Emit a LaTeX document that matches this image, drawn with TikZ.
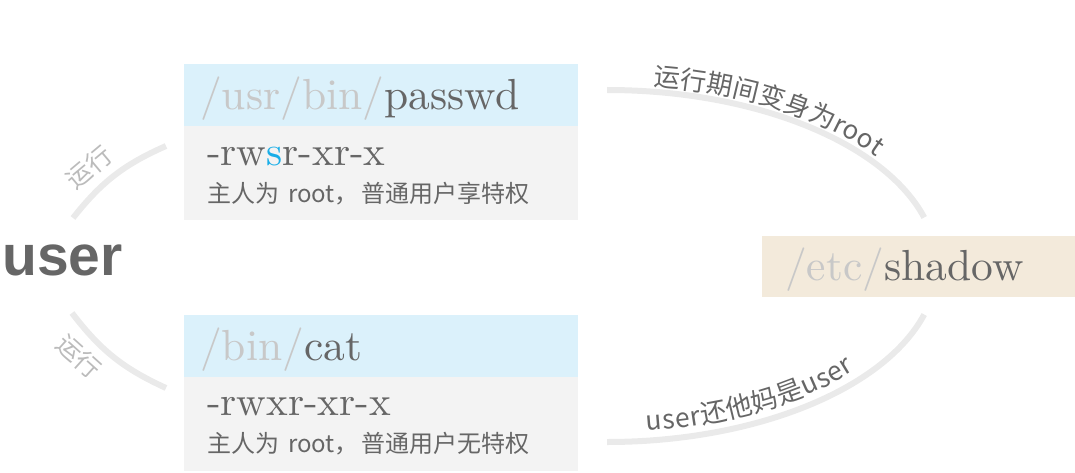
\documentclass[tikz,border=0pt]{standalone}
\usepackage{fontspec}
\usetikzlibrary{decorations.text}
\newfontfamily\cjk{Noto Sans CJK SC}
\newfontfamily\heros{Liberation Sans}
\newfontfamily\lmten{lmroman10-regular.otf}
\definecolor{txtdark}{HTML}{666666}
\definecolor{txtlight}{HTML}{C8C8C8}
\definecolor{hdrblue}{HTML}{DBF1FB}
\definecolor{bodygray}{HTML}{F3F3F3}
\definecolor{shadowbg}{HTML}{F3EADB}
\definecolor{arcgray}{HTML}{EAEAEA}
\definecolor{sblue}{HTML}{19AEE8}
\definecolor{lbllight}{HTML}{BBBBBB}
\tikzset{
  hdrbox/.style={fill=hdrblue, draw=none, minimum width=394pt, minimum height=62pt, anchor=north west, inner sep=0pt},
  bodybox/.style={fill=bodygray, draw=none, minimum width=394pt, minimum height=94pt, anchor=north west, inner sep=0pt},
  shbox/.style={fill=shadowbg, draw=none, minimum width=313pt, minimum height=61pt, anchor=north west, inner sep=0pt},
  serifhdr/.style={anchor=base west, inner sep=0pt, font=\lmten\fontsize{43.5}{43.5}\selectfont, text=txtdark},
  perm/.style={anchor=base west, inner sep=0pt, font=\lmten\fontsize{41}{41}\selectfont, text=txtdark},
  note/.style={anchor=base west, inner sep=0pt, font=\cjk\fontsize{24}{24}\selectfont, text=txtdark},
  runlbl/.style={inner sep=0pt, font=\cjk\fontsize{25}{25}\selectfont, text=lbllight},
  arcline/.style={draw=arcgray, line width=6pt},
}
\begin{document}
\begin{tikzpicture}[x=1pt,y=1pt]
\useasboundingbox (0,0) rectangle (1075,472);
% boxes
\node[hdrbox] (pwh) at (184,408) {};
\node[bodybox] (pwb) at (184,346) {};
\node[hdrbox] (cth) at (184,157) {};
\node[bodybox] (ctb) at (184,95) {};
\node[shbox] (shb) at (762,236) {};
% texts
\node[serifhdr] (pwt) at (200,362) {\textcolor{txtlight}{/usr/bin/}passwd};
\node[perm] (pwp) at (207,307) {-rw\textcolor{sblue}{s}r-xr-x};
\node[note] (pwn) at (207,270) {主人为\hspace{9pt}root，\hspace{3pt}普通用户享特权};
\node[serifhdr] (ctt) at (200,112) {\textcolor{txtlight}{/bin/}cat};
\node[perm] (ctp) at (207,57) {-rwxr-xr-x};
\node[note] (ctn) at (207,20) {主人为\hspace{9pt}root，\hspace{3pt}普通用户无特权};
\node[serifhdr] (sht) at (785,192) {\textcolor{txtlight}{/etc/}shadow};
\node[anchor=base west, inner sep=0pt, font=\heros\bfseries\fontsize{57}{57}\selectfont, text=txtdark] (user) at (2,197) {user};
% left arcs
\coordinate (lt1) at (166,326);
\coordinate (lt2) at (73,254);
\coordinate (lb1) at (72,159);
\coordinate (lb2) at (166,84);
\draw[arcline] (lt1) to[bend right=14] (lt2);
\draw[arcline] (lb1) to[bend right=14] (lb2);
\node[runlbl, rotate=40] (rl1) at (89,305) {运行};
\node[runlbl, rotate=-42] (rl2) at (79,116) {运行};
% right arcs (ellipse)
\coordinate (ec) at (607,206);
\draw[arcline] (ec) ++(90:330 and 176) arc[start angle=90, end angle=16, x radius=330, y radius=176];
\draw[arcline] (ec) ++(-90:330 and 176) arc[start angle=-90, end angle=-16, x radius=330, y radius=176];
\path[decorate, decoration={text along path, text color=txtdark, raise=6pt, text align=left,
  text={|\cjk\fontsize{26}{26}\selectfont|运行期间变身为root}}]
  (ec) ++(82:330 and 176) arc[start angle=82, end angle=30, x radius=330, y radius=176];
\path[decorate, decoration={text along path, text color=txtdark, raise=10pt, text align=fit to path,
  text={|\cjk\fontsize{26.5}{26.5}\selectfont|user还他妈是user}}]
  (ec) ++(-83:330 and 176) arc[start angle=-83, end angle=-40, x radius=330, y radius=176];
\end{tikzpicture}
\end{document}
